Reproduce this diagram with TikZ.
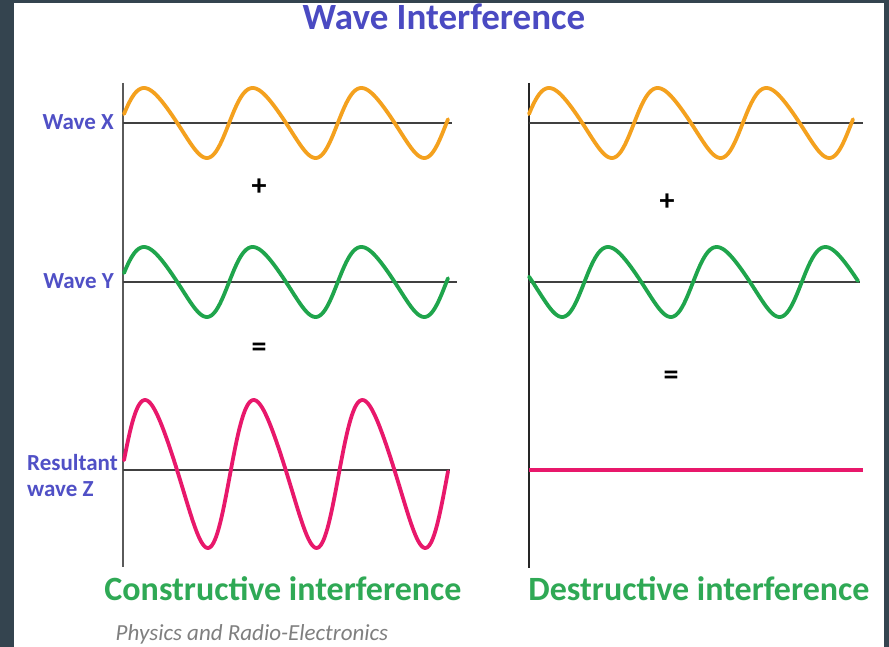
\documentclass[tikz,border=0pt]{standalone}
\usepackage{fontspec}
\setmainfont{Carlito}
\usetikzlibrary{positioning}
\definecolor{frame}{HTML}{34444F}
\definecolor{titleblue}{HTML}{4A4AC2}
\definecolor{lblblue}{HTML}{5050C6}
\definecolor{good}{HTML}{2FA955}
\definecolor{wavex}{HTML}{F4A11E}
\definecolor{wavey}{HTML}{1FA54C}
\definecolor{wavez}{HTML}{E8186B}
\definecolor{axisgray}{HTML}{5A5A5A}
\definecolor{mute}{HTML}{7F7F7F}

\begin{document}
\begin{tikzpicture}[x=1pt, y=-1pt,
    declare function={wv(\t)=cos(\t-15*(1-cos(\t)));},
    heading/.style={font=\fontsize{37}{40}\selectfont\bfseries, text=titleblue, inner sep=0pt},
    lbl/.style={font=\fontsize{23}{26}\selectfont\bfseries, text=lblblue, inner sep=0pt, align=left},
    sign/.style={font=\fontsize{30}{32}\selectfont\bfseries, inner sep=0pt},
    kind/.style={font=\fontsize{34}{38}\selectfont\bfseries, text=good, inner sep=0pt},
    credit/.style={font=\fontsize{23}{26}\selectfont\itshape, text=mute, inner sep=0pt},
    axisv/.style={draw=axisgray, line width=1.6pt},
    axish/.style={draw=black!75, line width=1.4pt},
    wave/.style={line width=3.8pt, line cap=round, line join=round, samples=240}
  ]
    \useasboundingbox (0,0) rectangle (889,647);
    \fill[frame] (0,0) rectangle (889,647);
    \fill[white] (14,3) rectangle (884,647);

    \node[heading] (title) at (444,17) {Wave Interference};

    % constructive side
    \draw[axisv] (123,83) -- (123,567);
    \draw[axish] (123,123) -- (452,123);
    \draw[axish] (123,282) -- (457,282);
    \draw[axish] (123,470) -- (450,470);
    \draw[wave, wavex] plot[domain=124:448] (\x, {123-35*wv(3.312*(\x-144))});
    \draw[wave, wavey] plot[domain=124:448] (\x, {282-35*wv(3.312*(\x-144))});
    \draw[wave, wavez] plot[domain=124:448] (\x, {474-74*wv(3.312*(\x-145))});
    \node[lbl, anchor=east] (lblx) at (114,122) {Wave X};
    \node[lbl, anchor=east] (lbly) at (114,281) {Wave Y};
    \node[lbl, anchor=west] (lblz) at (27,476) {Resultant\\wave Z};
    \node[sign] (plusl) at (259,187) {+};
    \node[sign] (eql) at (259,350) {=};
    \node[kind] (constr) at (283,589) {Constructive interference};

    % destructive side
    \draw[axisv, draw=black!85] (529,83) -- (529,568);
    \draw[axish] (529,123) -- (863,123);
    \draw[axish] (529,282) -- (860,282);
    \draw[wave, wavex] plot[domain=529:853] (\x, {123-35*wv(3.312*(\x-549))});
    \draw[wave, wavey] plot[domain=529:858] (\x, {282-35*wv(3.312*(\x-608))});
    \draw[wave, wavez, line cap=butt] (529,470) -- (863,470);
    \node[sign] (plusr) at (667,202) {+};
    \node[sign] (eqr) at (671,378) {=};
    \node[kind] (destr) at (699,589) {Destructive interference};

    \node[credit] (src) at (252,634) {Physics and Radio-Electronics};
  \end{tikzpicture}
\end{document}
